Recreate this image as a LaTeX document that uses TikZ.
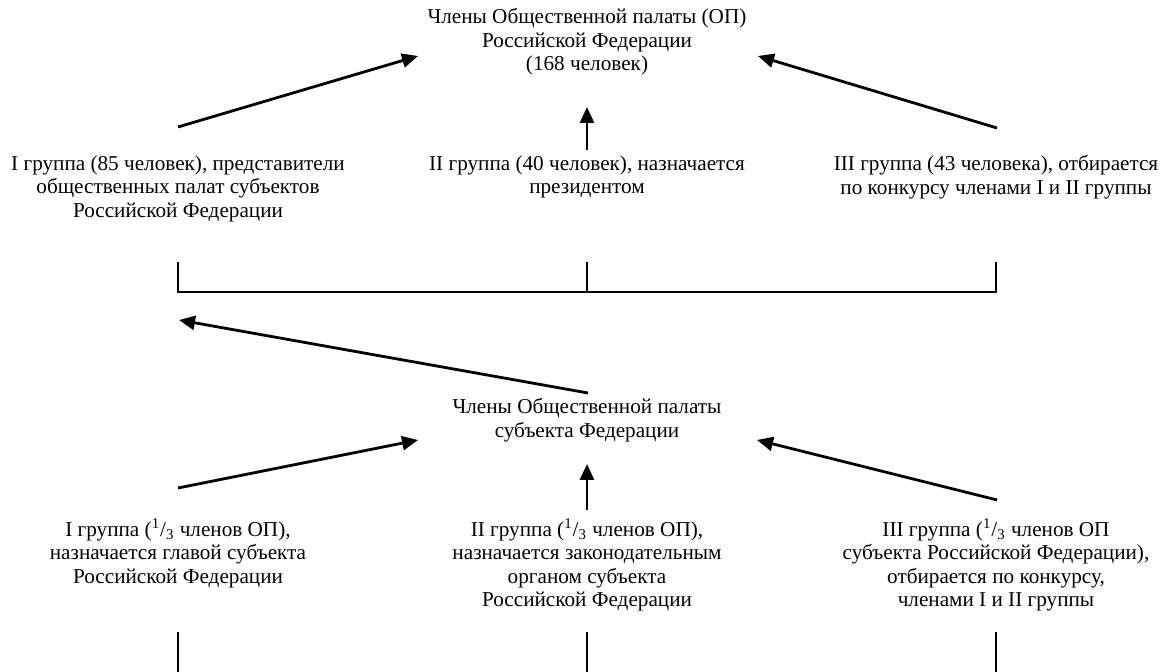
\documentclass[tikz,border=0pt]{standalone}
\usepackage{fontspec}
\setmainfont{Liberation Serif}
\usetikzlibrary{arrows.meta,calc}

\begin{document}
\begin{tikzpicture}[
    x=0.5pt, y=-0.5pt,
    txt/.style={inner sep=0pt, anchor=north, align=center,
                font=\fontsize{10.6}{11.75}\selectfont},
    line/.style={-{Triangle[length=8pt,width=7pt]}, line width=1.4pt},
    frame/.style={line width=1pt},
  ]
  \useasboundingbox (0,0) rectangle (1162,672);

  \node[txt] (chamber) at (587,8) {Члены Общественной палаты (ОП)\\Российской Федерации\\(168 человек)};

  \node[txt] (grpA) at (178,155) {I группа (85 человек), представители\\общественных палат субъектов\\Российской Федерации};
  \node[txt] (grpB) at (587,155) {II группа (40 человек), назначается\\президентом};
  \node[txt] (grpC) at (996,155) {III группа (43 человека), отбирается\\по конкурсу членами I и II группы};

  \node[txt] (subRF) at (587,398) {Члены Общественной палаты\\субъекта Федерации};

  \node[txt] (lowA) at (178,518) {I группа (\textsuperscript{1}/\textsubscript{3} членов ОП),\\назначается главой субъекта\\Российской Федерации};
  \node[txt] (lowB) at (587,518) {II группа (\textsuperscript{1}/\textsubscript{3} членов ОП),\\назначается законодательным\\органом субъекта\\Российской Федерации};
  \node[txt] (lowC) at (996,518) {III группа (\textsuperscript{1}/\textsubscript{3} членов ОП\\субъекта Российской Федерации),\\отбирается по конкурсу,\\членами I и II группы};

  % groups up to the chamber
  \draw[line] ($(grpA.north)+(0,-28)$) -- ($(chamber.north)+(-169,48)$);
  \draw[line] ($(grpB.north)+(0,-5)$) -- ($(chamber.north)+(0,99)$);
  \draw[line] ($(grpC.north)+(1,-27)$) -- ($(chamber.north)+(171,48)$);

  % bracket under the groups
  \draw[frame] ($(grpA.north)+(0,107)$) |- ($(grpC.north)+(0,137)$) -- ($(grpC.north)+(0,107)$);
  \draw[frame] ($(grpB.north)+(0,107)$) -- ($(grpB.north)+(0,137)$);
  \draw[line] ($(subRF.north)+(1,-5)$) -- ($(grpA.north)+(1,165)$);

  % regional groups up
  \draw[line] ($(lowA.north)+(0,-30)$) -- ($(subRF.north)+(-169,42)$);
  \draw[line] ($(lowB.north)+(0,-8)$) -- ($(subRF.north)+(0,66)$);
  \draw[line] ($(lowC.north)+(1,-18)$) -- ($(subRF.north)+(170,42)$);

  % lines below
  \draw[frame] ($(lowA.north)+(0,114)$) -- ($(lowA.north)+(0,154)$);
  \draw[frame] ($(lowB.north)+(0,114)$) -- ($(lowB.north)+(0,154)$);
  \draw[frame] ($(lowC.north)+(0,114)$) -- ($(lowC.north)+(0,154)$);

\end{tikzpicture}
\end{document}
